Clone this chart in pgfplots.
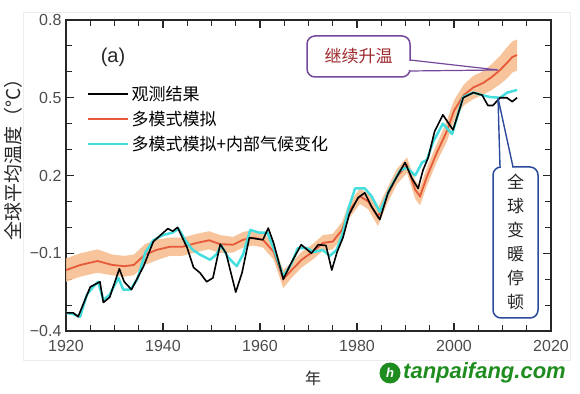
\documentclass[border=0pt]{standalone}
\usepackage{fontspec}
\setmainfont{Liberation Sans}
\newfontfamily\cjk{Noto Sans CJK SC}
\usepackage{pgfplots}
\pgfplotsset{compat=1.18}
\usepackage{pgfplotstable}
\usepgfplotslibrary{fillbetween}
\definecolor{bandc}{HTML}{F6BE90}
\definecolor{redc}{HTML}{E65A3A}
\definecolor{cyanc}{HTML}{45DEDE}
\definecolor{purc}{HTML}{74489A}
\definecolor{bluc}{HTML}{2B4A9C}
\definecolor{wred}{HTML}{9E2A2E}
\definecolor{wmg}{HTML}{1E8C1E}

\pgfplotstableread{
x y lo hi
1920 -0.165 -0.21 -0.12
1923 -0.145 -0.19 -0.10
1926.5 -0.13 -0.175 -0.085
1929.5 -0.145 -0.185 -0.105
1932 -0.15 -0.19 -0.11
1934 -0.145 -0.185 -0.105
1936.3 -0.105 -0.145 -0.065
1938.7 -0.087 -0.127 -0.047
1941.4 -0.075 -0.11 -0.04
1944 -0.075 -0.11 -0.04
1947 -0.06 -0.095 -0.025
1949.5 -0.05 -0.085 -0.015
1951.8 -0.065 -0.10 -0.03
1954.5 -0.067 -0.097 -0.037
1956.5 -0.048 -0.078 -0.018
1958.6 -0.04 -0.07 -0.01
1960.6 -0.048 -0.078 -0.018
1962.8 -0.094 -0.124 -0.064
1964.8 -0.20 -0.235 -0.165
1966.5 -0.165 -0.195 -0.135
1968.6 -0.125 -0.155 -0.095
1970.9 -0.094 -0.124 -0.064
1973 -0.06 -0.09 -0.03
1975 -0.055 -0.085 -0.025
1976.9 -0.01 -0.04 0.02
1978.4 0.065 0.035 0.095
1980.6 0.12 0.09 0.15
1982.3 0.10 0.07 0.13
1984.3 0.04 0.005 0.075
1986.2 0.12 0.09 0.15
1988.2 0.195 0.165 0.225
1990.3 0.24 0.21 0.27
1992 0.145 0.11 0.18
1993 0.12 0.085 0.155
1994.4 0.195 0.16 0.23
1996.5 0.29 0.255 0.325
1998.5 0.37 0.33 0.41
2000 0.45 0.41 0.49
2002 0.51 0.47 0.55
2004 0.54 0.495 0.585
2006 0.557 0.512 0.602
2007.8 0.58 0.53 0.63
2009.5 0.607 0.552 0.662
2010.9 0.634 0.574 0.694
2012 0.657 0.597 0.717
2013 0.665 0.605 0.725
}\modeldata

\pgfplotstableread{
x y
1920 -0.33
1921.5 -0.335
1922.9 -0.345
1924.3 -0.26
1925.6 -0.23
1926.6 -0.21
1927.7 -0.28
1929 -0.26
1930.8 -0.195
1931.8 -0.24
1933.3 -0.24
1934.7 -0.20
1936.4 -0.095
1938 -0.05
1940 -0.03
1942 -0.02
1943.2 -0.005
1944.6 -0.05
1946 -0.085
1947.6 -0.105
1949.7 -0.125
1951 -0.105
1952 -0.07
1953.4 -0.115
1955.2 -0.15
1956.5 -0.105
1958 -0.01
1959.7 -0.02
1961.5 -0.02
1962.8 -0.08
1964.8 -0.19
1966.5 -0.14
1967.8 -0.08
1969.6 -0.08
1971.2 -0.095
1972.9 -0.087
1974.4 -0.11
1975.8 -0.087
1977.1 -0.02
1978.2 0.07
1979.6 0.15
1981.6 0.15
1983 0.12
1984.7 0.06
1986.8 0.15
1988.9 0.22
1990.3 0.23
1992 0.20
1993.4 0.25
1994.4 0.26
1995.7 0.33
1997.7 0.40
1999.6 0.36
2001.9 0.503
2004 0.52
2005.8 0.51
2007.4 0.503
2009.5 0.50
2011 0.52
2013 0.53
}\internaldata

\pgfplotstableread{
x y
1920 -0.33
1921.5 -0.33
1922.5 -0.345
1925 -0.23
1927 -0.21
1927.7 -0.29
1929 -0.27
1931 -0.16
1932 -0.21
1933.5 -0.24
1936 -0.15
1938 -0.055
1941 -0.005
1942 -0.015
1943 0.0
1945 -0.08
1946.3 -0.155
1947.6 -0.175
1949 -0.21
1950.3 -0.195
1951.8 -0.065
1953 -0.10
1955 -0.25
1956.3 -0.175
1957.8 -0.04
1959.5 -0.045
1960.6 -0.048
1961.7 -0.003
1962.8 -0.06
1964.8 -0.20
1966.5 -0.135
1968.5 -0.067
1970.6 -0.10
1972 -0.067
1973.6 -0.07
1974.8 -0.165
1975.9 -0.095
1977.1 -0.04
1978.4 0.05
1980.2 0.114
1981.6 0.133
1983 0.08
1984.7 0.03
1986.4 0.133
1988.2 0.195
1989.9 0.25
1991.3 0.19
1992.6 0.15
1993.6 0.22
1994.7 0.27
1996 0.37
1997.7 0.434
1999.8 0.376
2001.9 0.50
2004 0.52
2005.8 0.51
2007 0.47
2008 0.47
2009.5 0.50
2010.9 0.50
2012 0.485
2013 0.50
}\obsdata

\begin{document}
\begin{tikzpicture}
\path (0pt,0pt) rectangle (580pt,393pt);
\draw[gray!15, line width=0.6pt] (23pt,33pt) rectangle (570pt,381pt);
\begin{axis}[
  at={(66pt,62pt)}, anchor=south west,
  scale only axis, width=485pt, height=311pt,
  xmin=1920, xmax=2020, ymin=-0.4, ymax=0.8,
  xtick={1920,1940,1960,1980,2000,2020},
  xticklabels={1920,1940,1960,1980,2000,2020},
  ytick={-0.4,-0.1,0.2,0.5,0.8},
  yticklabels={−0.4,−0.1,0.2,0.5,0.8},
  minor x tick num=3, minor y tick num=2,
  tick align=inside,
  major tick length=8pt, minor tick length=6pt,
  axis line style={black!85, line width=1.2pt},
  every tick/.style={black!85, line width=1.1pt},
  tick label style={font=\fontsize{16}{16}\selectfont, text=black!70},
  xticklabel style={yshift=-6pt},
  yticklabel style={xshift=-1pt},
  legend style={at={(0.037,0.80)}, anchor=north west, draw=none, fill=none,
    font=\cjk\fontsize{17}{17}\selectfont, row sep=5pt, cells={anchor=west}},
  legend image code/.code={\draw[#1] (0pt,0pt)--(34pt,0pt); \path (0pt,0pt)--(40pt,0pt);},
]
\addlegendimage{black, line width=1.6pt}\addlegendentry{观测结果}
\addlegendimage{redc, line width=1.8pt}\addlegendentry{多模式模拟}
\addlegendimage{cyanc, line width=2.5pt}\addlegendentry{多模式模拟+内部气候变化}

\addplot[name path=up, draw=none, forget plot] table[x=x,y=hi]{\modeldata};
\addplot[name path=dn, draw=none, forget plot] table[x=x,y=lo]{\modeldata};
\addplot[bandc, fill opacity=0.9, forget plot] fill between[of=up and dn];
\addplot[redc, line width=1.8pt, forget plot] table[x=x,y=y]{\modeldata};
\addplot[cyanc, line width=2.5pt, line join=round, forget plot] table[x=x,y=y]{\internaldata};
\addplot[black, line width=1.6pt, line join=round, forget plot] table[x=x,y=y]{\obsdata};

\node[font=\fontsize{20}{20}\selectfont, text=black!85] at (rel axis cs:0.097,0.881) {(a)};
\end{axis}

% callout 1
\draw[purc, line width=1.5pt, rounded corners=8pt, fill=white] (307pt,316pt) rectangle (410pt,357pt);
\fill[white] (408pt,322.8pt) rectangle (412pt,332.2pt);
\draw[purc, line width=1.2pt] (410pt,333pt) -- (498pt,323pt) -- (410pt,322pt);
\node[font=\cjk\fontsize{17}{17}\selectfont, text=wred] at (358.5pt,336.5pt) {继续升温};

% callout 2
\draw[bluc, line width=1.5pt, rounded corners=8pt, fill=white] (493pt,75pt) rectangle (538pt,226pt);
\fill[white] (500.8pt,224pt) rectangle (512.2pt,228pt);
\draw[bluc, line width=1.4pt] (500pt,226pt) -- (498pt,295pt) -- (513pt,226pt);
\node[font=\cjk\fontsize{17}{24}\selectfont, text=black!85, align=center] at (515.5pt,151pt) {全\\球\\变\\暖\\停\\顿};

% axis titles
\node[font=\cjk\fontsize{19}{19}\selectfont, text=black!85, rotate=90] at (13pt,238pt) {全球平均温度（°C）};
\node[font=\cjk\fontsize{16}{16}\selectfont, text=black!85] at (313pt,15pt) {年};

% watermark
\fill[wmg] (390pt,20pt) circle (10.5pt);
\node[text=white, font=\bfseries\itshape\fontsize{13}{13}\selectfont] at (390pt,20pt) {h};
\node[anchor=west, text=wmg, font=\bfseries\itshape\fontsize{22}{22}\selectfont, inner sep=0pt] at (403pt,20pt) {tanpaifang.com};
\end{tikzpicture}
\end{document}
